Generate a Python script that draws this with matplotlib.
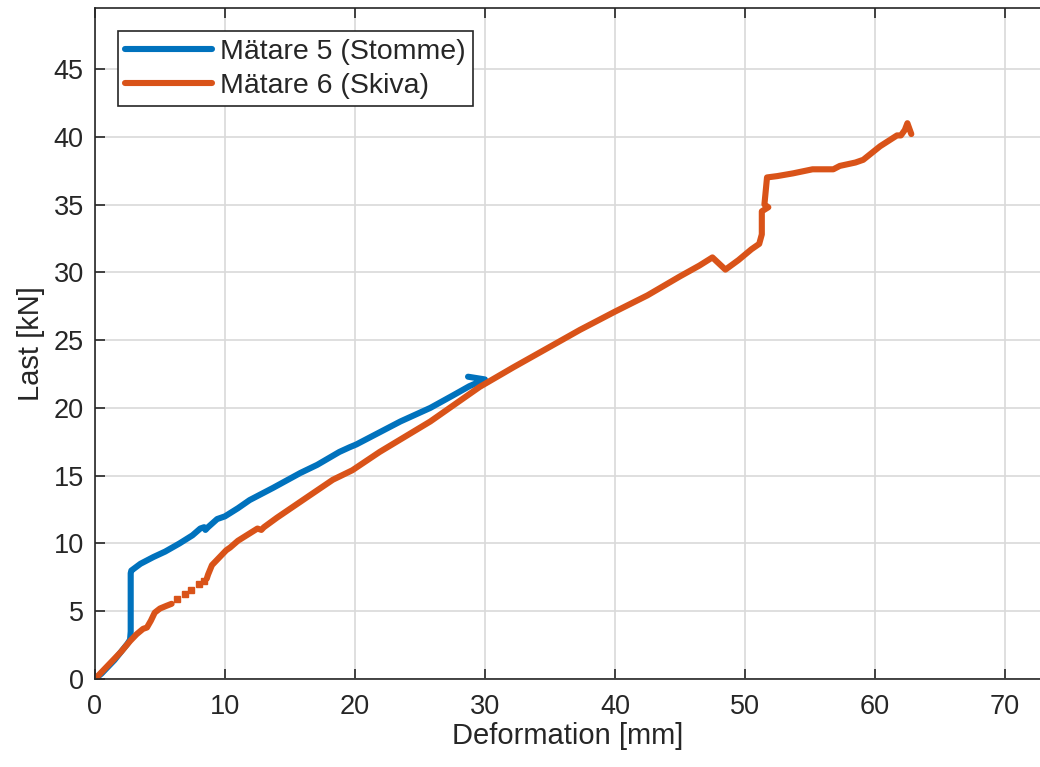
import matplotlib.pyplot as plt

# Mätare 5 (Stomme)
blue_x = [0, 0.5, 1.0, 1.5, 2.0, 2.5, 2.7, 2.75, 2.75, 2.8, 3.5, 4.5, 5.4, 6.5, 7.5,
          8.1, 8.4, 8.5, 8.7, 9.4, 10.0, 11.0, 11.9, 13.7, 15.8, 17.1, 18.8, 19.6,
          20.1, 21.9, 23.5, 25.8, 27.5, 28.8, 30.0, 28.7]
blue_y = [0, 0.4, 0.9, 1.4, 2.0, 2.6, 2.9, 3.5, 7.8, 8.0, 8.5, 9.0, 9.4, 10.0, 10.6,
          11.1, 11.2, 11.0, 11.2, 11.8, 12.0, 12.6, 13.2, 14.1, 15.2, 15.8, 16.75, 17.1,
          17.3, 18.2, 19.0, 20.0, 20.9, 21.6, 22.1, 22.3]

# Mätare 6 (Skiva), first part, sparse gap, rest
orange_x1 = [0, 0.5, 1.0, 1.5, 2.0, 2.7, 3.2, 3.7, 4.0, 4.3, 4.6, 5.0, 5.5, 5.9]
orange_y1 = [0, 0.5, 1.0, 1.5, 2.0, 2.8, 3.3, 3.7, 3.8, 4.3, 4.9, 5.2, 5.4, 5.55]
gap_x = [6.3, 6.9, 7.4, 8.0, 8.4]
gap_y = [5.9, 6.3, 6.6, 7.0, 7.2]
orange_x2 = [8.6, 8.7, 9.0, 9.4, 10.1, 10.4, 11.0, 12.5, 12.8, 13.0, 14.0, 16.3, 18.3,
             19.8, 21.9, 25.8, 29.6, 32.2, 34.8, 37.3, 40.0, 42.5, 45.0, 46.5, 47.5,
             48.5, 49.5, 50.5, 51.1, 51.3, 51.3, 51.8, 51.5, 51.6, 51.7, 52.5, 53.7,
             55.2, 56.8, 57.3, 58.5, 59.1, 60.4, 61.7, 62.0, 62.3, 62.5, 62.8]
orange_y2 = [7.4, 7.7, 8.4, 8.8, 9.5, 9.7, 10.2, 11.1, 11.0, 11.2, 11.9, 13.4, 14.7,
             15.4, 16.75, 19.0, 21.55, 23.0, 24.4, 25.75, 27.1, 28.3, 29.7, 30.5, 31.1,
             30.2, 30.9, 31.7, 32.1, 32.8, 34.5, 34.8, 35.0, 36.0, 37.0, 37.1, 37.3,
             37.6, 37.6, 37.85, 38.1, 38.3, 39.3, 40.1, 40.1, 40.5, 41.0, 40.2]

blue = '#0072BD'
orange = '#D95319'
dark = '#262626'

plt.rcParams['font.family'] = ['Liberation Sans', 'DejaVu Sans']

fig = plt.figure(figsize=(10.4, 7.67), dpi=100)
ax = fig.add_axes([0.0913, 0.1147, 0.9087, 0.8749])

lw = 4.4
ax.plot(blue_x, blue_y, color=blue, lw=lw, solid_joinstyle='round',
        solid_capstyle='round', label='Mätare 5 (Stomme)')
ax.plot(orange_x1, orange_y1, color=orange, lw=lw, solid_joinstyle='round',
        solid_capstyle='round', label='Mätare 6 (Skiva)')
ax.plot(gap_x, gap_y, ls='none', marker='s', ms=4.5, color=orange, mec=orange)
ax.plot(orange_x2, orange_y2, color=orange, lw=lw, solid_joinstyle='round',
        solid_capstyle='round')

ax.set_xlim(0, 72.7)
ax.set_ylim(0, 49.5)
ax.set_xticks(range(0, 71, 10))
ax.set_yticks(range(0, 46, 5))
ax.grid(True, color='#d9d9d9', lw=1.2)
ax.set_axisbelow(True)
ax.tick_params(direction='in', length=7, width=1.2, colors=dark, top=True,
               labelsize=19.5)
ax.tick_params(axis='x', pad=11)
ax.tick_params(axis='y', pad=8)
for side in ['left', 'bottom', 'top']:
    ax.spines[side].set_color(dark)
    ax.spines[side].set_linewidth(1.2)
ax.spines['right'].set_visible(False)

ax.set_xlabel('Deformation [mm]', color=dark, fontsize=21, labelpad=1)
ax.set_ylabel('Last [kN]', color=dark, fontsize=21, labelpad=6)

leg = ax.legend(loc='upper left', bbox_to_anchor=(0.024, 0.965), borderaxespad=0,
                fancybox=False, framealpha=1, edgecolor=dark, handlelength=3.05,
                handletextpad=0.3, labelspacing=0.3, borderpad=0.25, fontsize=20.5)
leg.get_frame().set_linewidth(1.2)
for t in leg.get_texts():
    t.set_color(dark)

fig.savefig('out.png', dpi=100)
